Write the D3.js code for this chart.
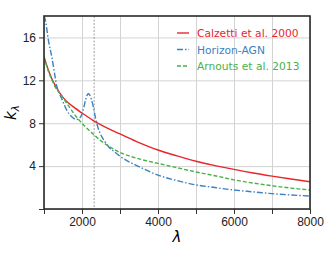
<!DOCTYPE html>
<html>
<head>
<meta charset="utf-8">
<script src="https://cdn.jsdelivr.net/npm/d3@7"></script>
<style>
  body { margin: 0; background: #fff; }
  svg { font-family: "DejaVu Sans", sans-serif; }
  .grid line { stroke: #d3d3d3; stroke-width: 1; }
  .grid path { display: none; }
  .axis path { display: none; }
  .axis line { stroke: #333; }
  .axis text { fill: #222; font-size: 12px; }
</style>
</head>
<body>
<svg width="328" height="258"></svg>
<script>
// Calzetti et al. 2000
const calzLam = [1000, 1100, 1200, 1300, 1400, 1550, 1800, 2000, 2300, 2500, 2750, 3000, 3500, 4000, 4500, 5000, 5500, 6000, 6500, 7000, 7500, 8000];
const calzK   = [14.2, 13.1, 12.2, 11.5, 10.9, 10.2, 9.45, 8.95, 8.25, 7.85, 7.4, 7.0, 6.2, 5.5, 4.95, 4.45, 4.05, 3.69, 3.36, 3.07, 2.8, 2.54];

// Horizon-AGN
const hagnLam = [1000, 1030, 1120, 1210, 1280, 1340, 1400, 1465, 1600, 1730, 1860, 1930, 2000, 2050, 2100, 2140, 2170, 2200, 2250, 2300, 2350, 2400, 2460, 2520, 2600, 2700, 2850, 3000, 3500, 4000, 4500, 5000, 5500, 6000, 6500, 7000, 7500, 8000];
const hagnK   = [18.0, 17.7, 15.65, 14.1, 12.6, 11.4, 10.8, 10.3, 9.2, 8.6, 8.35, 8.45, 8.85, 9.5, 10.25, 10.65, 10.75, 10.65, 10.2, 9.5, 8.6, 7.85, 7.2, 6.75, 6.3, 5.8, 5.35, 4.92, 3.95, 3.16, 2.65, 2.25, 2.0, 1.77, 1.6, 1.43, 1.31, 1.21];

// Arnouts et al. 2013
const arnLam = [1000, 1100, 1200, 1300, 1400, 1465, 1600, 1730, 1850, 2000, 2150, 2320, 2500, 2750, 3000, 3500, 4000, 4500, 5000, 5500, 6000, 6500, 7000, 7500, 8000];
const arnK   = [14.2, 13.0, 12.1, 11.35, 10.85, 10.55, 9.85, 9.2, 8.6, 8.0, 7.45, 6.9, 6.35, 5.75, 5.27, 4.68, 4.25, 3.85, 3.45, 3.1, 2.72, 2.42, 2.17, 1.95, 1.77];

const xTicks = [1000, 2000, 3000, 4000, 5000, 6000, 7000, 8000];
const xLabels = [2000, 4000, 6000, 8000];
const yTicks = [0, 4, 8, 12, 16];
const yLabels = [4, 8, 12, 16];
const markLam = 2320;

const seriesNames = ['Calzetti et al. 2000', 'Horizon-AGN', 'Arnouts et al. 2013'];
const seriesColors = ['#e8262a', '#3b82c2', '#4bb04a'];
const seriesDash = [null, '6,2,1.5,2', '4,2'];

const svg = d3.select('svg');
const margin = { left: 44, top: 16, right: 18, bottom: 49 };
const width = 328 - margin.left - margin.right;
const height = 258 - margin.top - margin.bottom;

const chart = svg.append('g')
  .attr('transform', `translate(${margin.left}, ${margin.top})`);

const xScale = d3.scaleLinear().domain([1000, 8000]).range([0, width]);
const yScale = d3.scaleLinear().domain([0, 18]).range([height, 0]);

// grid
chart.append('g')
  .attr('class', 'grid')
  .attr('transform', `translate(0, ${height})`)
  .call(d3.axisBottom(xScale).tickValues(xTicks).tickSize(-height).tickFormat(''));

chart.append('g')
  .attr('class', 'grid')
  .call(d3.axisLeft(yScale).tickValues(yTicks).tickSize(-width).tickFormat(''));

// vertical marker
chart.append('line')
  .attr('x1', xScale(markLam)).attr('x2', xScale(markLam))
  .attr('y1', 0).attr('y2', height)
  .attr('stroke', '#888').attr('stroke-width', 0.8)
  .attr('stroke-dasharray', '2,1.5');

// curves
const data = [
  calzLam.map((l, i) => [l, calzK[i]]),
  hagnLam.map((l, i) => [l, hagnK[i]]),
  arnLam.map((l, i) => [l, arnK[i]])
];

const line = d3.line()
  .x(d => xScale(d[0]))
  .y(d => yScale(d[1]))
  .curve(d3.curveMonotoneX);

chart.append('clipPath').attr('id', 'clip')
  .append('rect').attr('width', width).attr('height', height);

data.forEach((d, i) => {
  chart.append('path')
    .datum(d)
    .attr('clip-path', 'url(#clip)')
    .attr('fill', 'none')
    .attr('stroke', seriesColors[i])
    .attr('stroke-width', 1.4)
    .attr('stroke-dasharray', seriesDash[i])
    .attr('d', line);
});

// axes
chart.append('g')
  .attr('class', 'axis')
  .attr('transform', `translate(0, ${height})`)
  .call(d3.axisBottom(xScale).tickValues(xTicks).tickSize(5).tickPadding(3)
    .tickFormat(v => xLabels.includes(v) ? v : ''));

chart.append('g')
  .attr('class', 'axis')
  .call(d3.axisLeft(yScale).tickValues(yTicks).tickSize(5).tickPadding(3)
    .tickFormat(v => yLabels.includes(v) ? v : ''));

// frame
chart.append('rect')
  .attr('width', width).attr('height', height)
  .attr('fill', 'none').attr('stroke', '#2a2a2a').attr('stroke-width', 1.6);

// legend
const legend = chart.append('g').attr('transform', 'translate(133, 17)');
seriesNames.forEach((name, i) => {
  const y = i * 16.5;
  legend.append('line')
    .attr('x1', 0).attr('x2', 12).attr('y1', y).attr('y2', y)
    .attr('stroke', seriesColors[i]).attr('stroke-width', 1.4)
    .attr('stroke-dasharray', seriesDash[i]);
  legend.append('text')
    .attr('x', 20).attr('y', y + 4)
    .attr('fill', seriesColors[i])
    .style('font-size', '10.7px')
    .text(name);
});

// labels
svg.append('text')
  .attr('x', margin.left + width / 2)
  .attr('y', 242)
  .attr('text-anchor', 'middle')
  .style('font-size', '15px')
  .style('font-style', 'italic')
  .text('λ');

const yl = svg.append('text')
  .attr('transform', `translate(16, ${margin.top + height / 2}) rotate(-90)`)
  .attr('text-anchor', 'middle')
  .style('font-size', '15px')
  .style('font-style', 'italic');
yl.append('tspan').text('k');
yl.append('tspan').attr('dy', 3).style('font-size', '10.5px').text('λ');
</script>
</body>
</html>
